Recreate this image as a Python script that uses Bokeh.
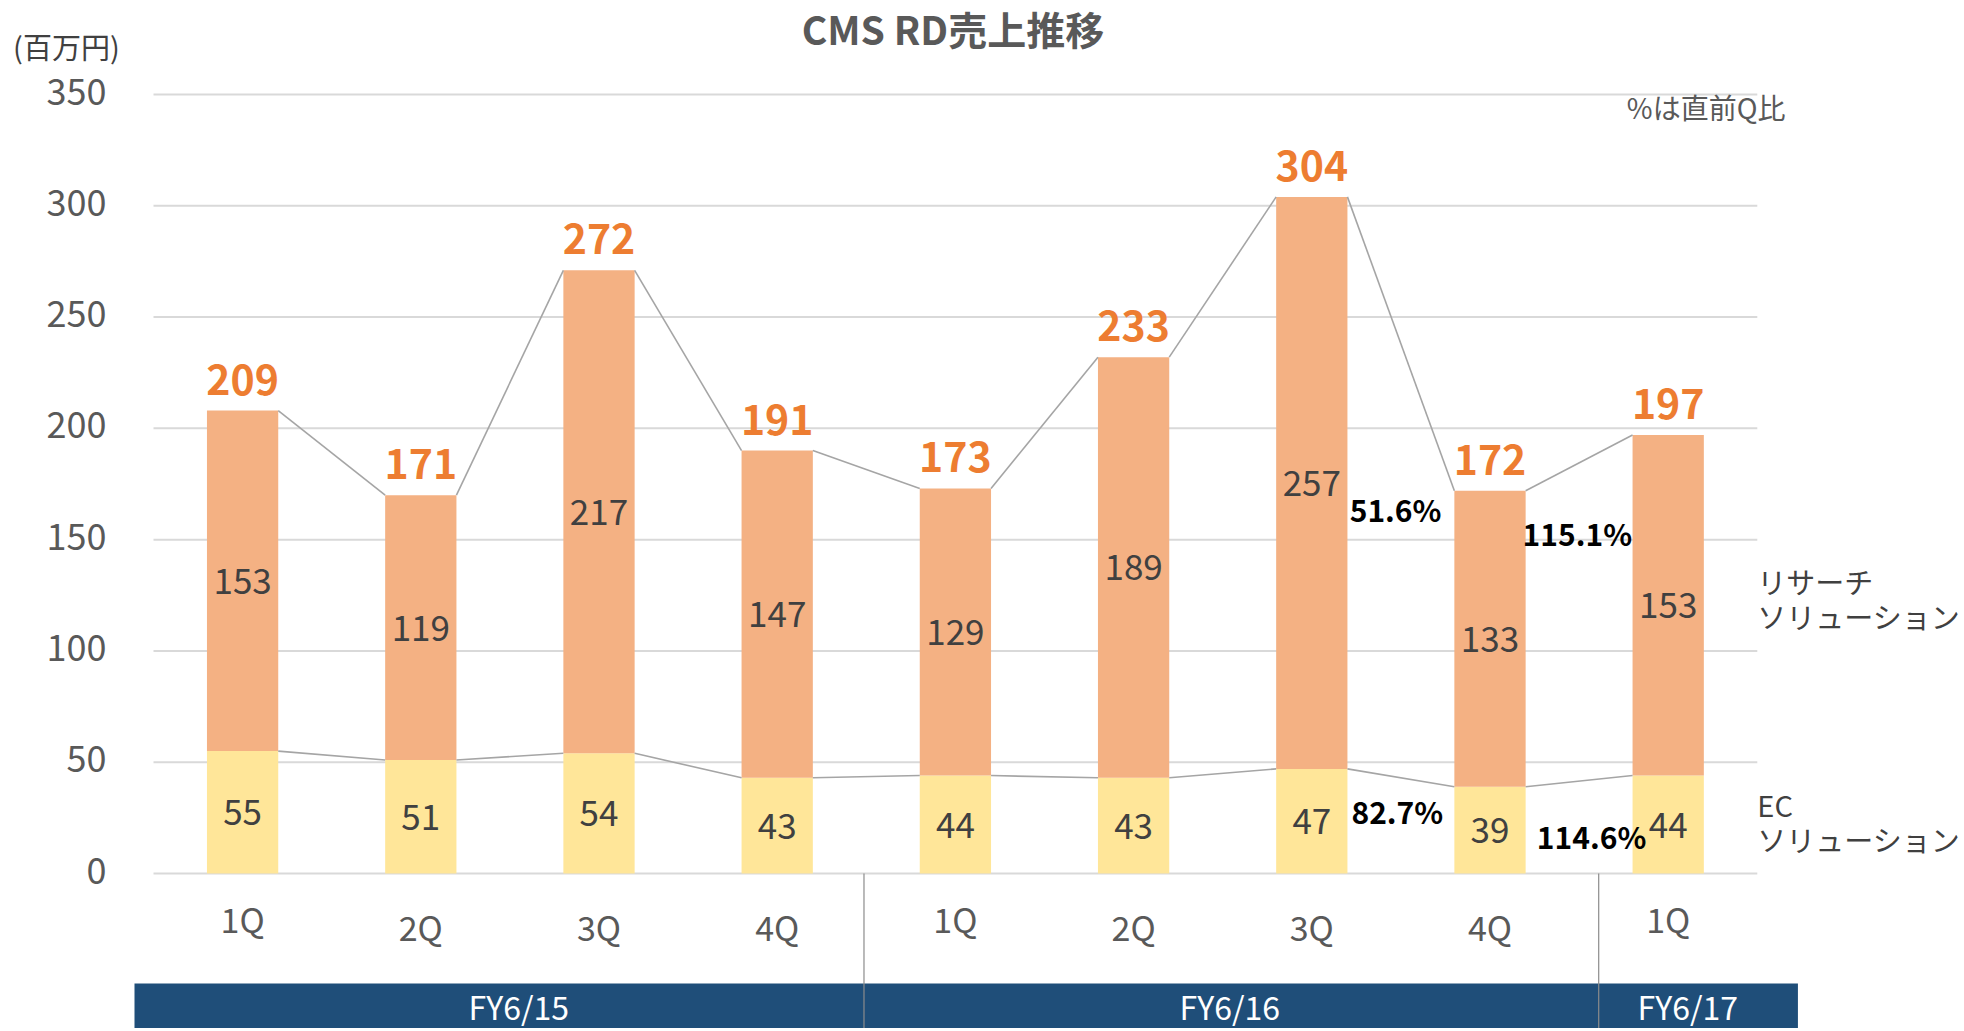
from bokeh.plotting import figure
from bokeh.models import Range1d, ColumnDataSource
from bokeh.core.properties import value
from bokeh.embed import file_html
from bokeh.resources import INLINE

# ---------------- data ----------------
quarters = ["1Q", "2Q", "3Q", "4Q", "1Q", "2Q", "3Q", "4Q", "1Q"]
ec_sales = [55, 51, 54, 43, 44, 43, 47, 39, 44]
research_sales = [153, 119, 217, 147, 129, 189, 257, 133, 153]
total_labels = [209, 171, 272, 191, 173, 233, 304, 172, 197]
fiscal_years = ["FY6/15", "FY6/16", "FY6/17"]
y_ticks = [0, 50, 100, 150, 200, 250, 300, 350]
pct_labels = ["51.6%", "82.7%", "115.1%", "114.6%"]
series_names = [["リサーチ", "ソリューション"], ["EC", "ソリューション"]]

# ---------------- layout constants ----------------
FONT = value("Noto Sans CJK JP")
W, H = 1960, 1028
PX_X = 178.2          # pixels per category
PX_Y = 779 / 350.0    # pixels per unit
X0 = -0.5 - 153 / PX_X
X1 = X0 + W / PX_X
Y1 = 350 + 94 / PX_Y
Y0 = Y1 - H / PX_Y
BAR_W = 0.4
FY_TOP = -49.4
FY_LEFT = -0.6066
FY_RIGHT = 8.728
SEPARATORS = [3.487, 7.61]
FY_CENTERS = [1.55, 5.54, 8.11]
PCT_POS = [(6.47, 163.8), (6.48, 28.1), (7.49, 153.0), (7.57, 16.9)]
TICK_LABEL_X = -0.5 - 47 / PX_X

idx = list(range(len(quarters)))
stack_top = [e + r for e, r in zip(ec_sales, research_sales)]

p = figure(width=W, height=H, x_range=Range1d(X0, X1), y_range=Range1d(Y0, Y1),
           output_backend="svg", toolbar_location=None,
           x_axis_location=None, y_axis_location=None,
           min_border=0, min_border_left=0, min_border_right=0,
           min_border_top=0, min_border_bottom=0)
p.outline_line_color = None
p.grid.visible = False
p.background_fill_color = "white"
p.border_fill_color = "white"

# gridlines and value-axis labels
p.segment(x0=[-0.5] * len(y_ticks), y0=y_ticks, x1=[8.5] * len(y_ticks), y1=y_ticks,
          line_color="#D9D9D9", line_width=2)
p.text(x=[TICK_LABEL_X] * len(y_ticks), y=y_ticks, text=[str(t) for t in y_ticks],
       text_align="right", text_baseline="middle", y_offset=-3,
       text_font=FONT, text_font_size="36px", text_color="#595959")

# stacked bars
src = ColumnDataSource(dict(x=idx, ec=ec_sales, top=stack_top,
                            ec_mid=[e / 2 for e in ec_sales],
                            r_mid=[e + r / 2 for e, r in zip(ec_sales, research_sales)],
                            ec_txt=[str(v) for v in ec_sales],
                            r_txt=[str(v) for v in research_sales],
                            tot_txt=[str(v) for v in total_labels],
                            q=quarters,
                            q_y=[-20.4 if q.startswith("1") else -23.8 for q in quarters]))
p.vbar(x="x", width=BAR_W, bottom=0, top="ec", fill_color="#FFE699", line_color=None, source=src)
p.vbar(x="x", width=BAR_W, bottom="ec", top="top", fill_color="#F4B183", line_color=None, source=src)

# series connecting lines
p.segment(x0=[i + BAR_W / 2 for i in idx[:-1]], y0=stack_top[:-1],
          x1=[i + 1 - BAR_W / 2 for i in idx[:-1]], y1=stack_top[1:],
          line_color="#A5A5A5", line_width=1.6)
p.segment(x0=[i + BAR_W / 2 for i in idx[:-1]], y0=ec_sales[:-1],
          x1=[i + 1 - BAR_W / 2 for i in idx[:-1]], y1=ec_sales[1:],
          line_color="#A5A5A5", line_width=1.6)

# value labels
p.text(x="x", y="ec_mid", text="ec_txt", source=src, text_align="center", text_baseline="middle",
       text_font=FONT, text_font_size="35px", text_color="#404040")
p.text(x="x", y="r_mid", text="r_txt", source=src, text_align="center", text_baseline="middle",
       text_font=FONT, text_font_size="35px", text_color="#404040")
p.text(x="x", y="top", text="tot_txt", source=src, text_align="center", text_baseline="alphabetic",
       y_offset=-31, text_font=FONT, text_font_size="41px", text_font_style="bold",
       text_color="#ED7D31")

# percentage labels
p.text(x=[pp[0] for pp in PCT_POS], y=[pp[1] for pp in PCT_POS], text=pct_labels,
       text_align="center", text_baseline="middle", text_font=FONT, text_font_size="30px",
       text_font_style="bold", text_color="#000000")

# quarter labels
p.text(x="x", y="q_y", text="q", source=src, text_align="center", text_baseline="middle",
       text_font=FONT, text_font_size="34px", text_color="#595959")

# fiscal year band
p.quad(left=[FY_LEFT], right=[FY_RIGHT], bottom=[Y0 - 10], top=[FY_TOP],
       fill_color="#1F4E79", line_color=None)
p.text(x=FY_CENTERS, y=[-59.6] * 3, text=fiscal_years, text_align="center", text_baseline="middle",
       text_font=FONT, text_font_size="32px", text_color="white")
p.segment(x0=SEPARATORS, y0=[0, 0], x1=SEPARATORS, y1=[Y0 - 10] * 2,
          line_color="#8C8C8C", line_width=1.2)

# series names at right
p.text(x=[8.5] * 4, y=[131.6, 115.9, 31.4, 15.7],
       text=[series_names[0][0], series_names[0][1], series_names[1][0], series_names[1][1]],
       text_align="left", text_baseline="middle", text_font=FONT, text_font_size="29px",
       text_color="#404040")

# title and notes
p.text(x=[3.986], y=[379.7], text=["CMS RD売上推移"], text_align="center", text_baseline="middle",
       text_font=FONT, text_font_size="39px", text_font_style="bold", text_color="#595959")
p.text(x=[7.768], y=[344.4], text=["%は直前Q比"], text_align="left", text_baseline="middle",
       text_font=FONT, text_font_size="28px", text_color="#595959")
p.text(x=[-1.288], y=[372.0], text=["(百万円)"], text_align="left", text_baseline="middle",
       text_font=FONT, text_font_size="29px", text_color="#404040")

open("out.html", "w").write(file_html(p, INLINE))
